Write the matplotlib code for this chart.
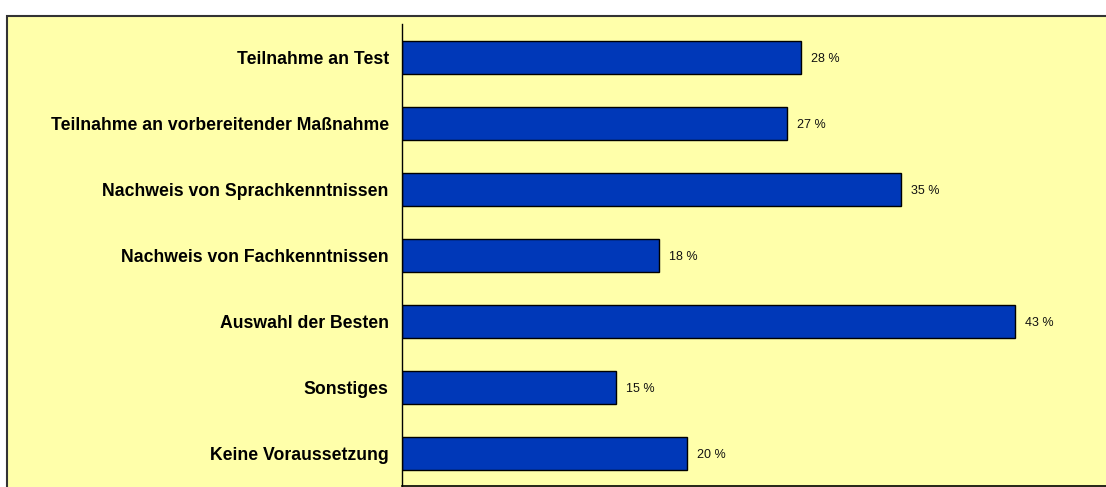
import matplotlib
matplotlib.use("Agg")
import matplotlib.pyplot as plt
from matplotlib.patches import Rectangle

# data, top to bottom as in the chart
categories = [
    "Teilnahme an Test",
    "Teilnahme an vorbereitender Maßnahme",
    "Nachweis von Sprachkenntnissen",
    "Nachweis von Fachkenntnissen",
    "Auswahl der Besten",
    "Sonstiges",
    "Keine Voraussetzung",
]
values = [28, 27, 35, 18, 43, 15, 20]
value_labels = ["28 %", "27 %", "35 %", "18 %", "43 %", "15 %", "20 %"]

plt.rcParams['font.family'] = ['Liberation Sans', 'DejaVu Sans']

W, H = 1106, 487
fig = plt.figure(figsize=(W / 100, H / 100), dpi=100)
fig.patch.set_facecolor("white")

# yellow chart area with dark frame (runs off the right/bottom edge)
frame = Rectangle((7 / W, -0.1), 1.2, 0.1 + (H - 16) / H, transform=fig.transFigure,
                  facecolor="#FFFFAA", edgecolor="#333333", linewidth=1.5, zorder=-10)
fig.patches.append(frame)

ax = fig.add_axes([402 / W, 1 / H, 712.5 / W, (486 - 24) / H])
ax.set_facecolor("none")
ax.set_zorder(1)

ypos = list(range(len(categories)))
ax.barh(ypos, values, height=0.5, color="#0038B8", edgecolor="black", linewidth=1)

for y, v, lab in zip(ypos, values, value_labels):
    ax.annotate(lab, (v, y), xytext=(7.5, -1.5), textcoords="offset points",
                va="center", ha="left", fontsize=9, color="#111111")

ax.set_xlim(0, 50)
ax.set_ylim(len(categories) - 0.5, -0.5)
ax.set_yticks(ypos)
ax.set_yticklabels(categories, fontsize=12.7, fontweight="bold")
ax.tick_params(axis="y", length=0, pad=9.5)
ax.set_xticks([])

for s in ["top", "right"]:
    ax.spines[s].set_visible(False)
ax.spines["left"].set_linewidth(1)
ax.spines["bottom"].set_linewidth(1.2)

fig.savefig("out.png", dpi=100)
